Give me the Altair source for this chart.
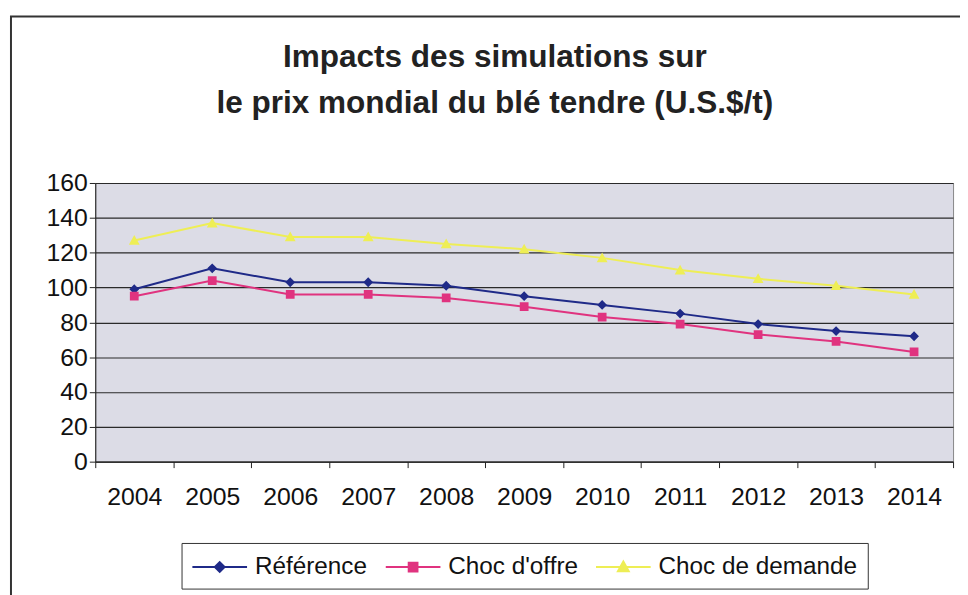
import altair as alt
import pandas as pd

years = [str(y) for y in range(2004, 2015)]
reference = [99, 111, 103, 103, 101, 95, 90, 85, 79, 75, 72]
choc_offre = [95, 104, 96, 96, 94, 89, 83, 79, 73, 69, 63]
choc_demande = [127, 137, 129, 129, 125, 122, 117, 110, 105, 101, 96]

series = ["Référence", "Choc d'offre", "Choc de demande"]
colors = ["#1f2a88", "#e0337f", "#eeee55"]

title_lines = ["Impacts des simulations sur", "le prix mondial du blé tendre (U.S.$/t)"]

rows = []
for name, vals in zip(series, [reference, choc_offre, choc_demande]):
    for y, v in zip(years, vals):
        rows.append({"annee": y, "prix": v, "serie": name})
df = pd.DataFrame(rows)

FONT = "Liberation Sans"

# Marker shapes: filled marker + horizontal arms (arms only visible in the legend,
# since the plotted points are drawn with fill only).
def diamond(r):
    return f"M0,-{r}L{r},0L0,{r}L-{r},0Z"

def square(r):
    return f"M-{r},-{r}H{r}V{r}H-{r}Z"

def tri(r):
    return f"M0,-{r}L{r},{r*0.8:.3f}H-{r}Z"

ARM = 2.12
shape_paths = [
    f"M-{ARM},0H-0.38" + diamond(0.38) + diamond(0.24) + diamond(0.1) + f"M0.38,0H{ARM}",
    f"M-{ARM},0H-0.34" + square(0.34) + square(0.2) + square(0.07) + f"M0.34,0H{ARM}",
    f"M-{ARM},0H-0.2" + tri(0.42) + tri(0.25) + tri(0.09) + f"M0.2,0H{ARM}",
]

x_enc = alt.X("annee:N", title=None, sort=years,
              scale=alt.Scale(paddingInner=0, paddingOuter=0),
              axis=alt.Axis(tickBand="extent", labelAngle=0, labelFontSize=25,
                            labelFont=FONT, labelColor="#111", tickSize=6,
                            tickColor="#222", domainColor="#222", labelPadding=17,
                            grid=False))
y_enc = alt.Y("prix:Q", title=None,
              scale=alt.Scale(domain=[0, 160], nice=False),
              axis=alt.Axis(values=list(range(0, 161, 20)), labelFontSize=25,
                            labelFont=FONT, labelColor="#111", tickSize=6,
                            tickColor="#222", domainColor="#222", labelPadding=2,
                            gridColor="#2a2a2a", gridWidth=1.2))

lines = alt.Chart(df).mark_line(
    strokeWidth=2,
    point=alt.OverlayMarkDef(filled=True, size=676, strokeWidth=0, opacity=1),
).encode(
    x=x_enc, y=y_enc,
    color=alt.Color("serie:N", scale=alt.Scale(domain=series, range=colors), title=None,
                    legend=alt.Legend(orient="none", legendX=87, legendY=363,
                                      direction="horizontal", labelFontSize=24.5,
                                      labelFont=FONT, labelColor="#111",
                                      symbolSize=676, symbolStrokeWidth=2,
                                      symbolOffset=14.5, labelOffset=21.5,
                                      columnPadding=13, padding=10,
                                      strokeColor="#333", fillColor="white",
                                      labelLimit=400)),
    shape=alt.Shape("serie:N", scale=alt.Scale(domain=series, range=shape_paths), title=None),
)

title_layer = alt.Chart(alt.Data(values=[{}])).mark_text(
    text=title_lines, font=FONT, fontSize=31.8, fontWeight="bold", color="#222",
    align="center", baseline="alphabetic", lineHeight=46,
).encode(x=alt.value(403), y=alt.value(-117))

frame = alt.Chart(alt.Data(values=[{}])).mark_rect(
    fill=None, stroke="#333", strokeWidth=2
).encode(x=alt.value(-85), y=alt.value(-168), x2=alt.value(1000), y2=alt.value(700))

chart = alt.layer(frame, title_layer, lines).properties(
    width=865, height=281,
    padding={"left": 88, "top": 174, "right": 7, "bottom": 132},
    autosize=alt.AutoSizeParams(type="none"),
    background="white",
).configure_view(
    fill="#dcdce6", stroke="#888", strokeWidth=1
)

chart.save("out.html", embed_options={"renderer": "svg", "actions": False})
